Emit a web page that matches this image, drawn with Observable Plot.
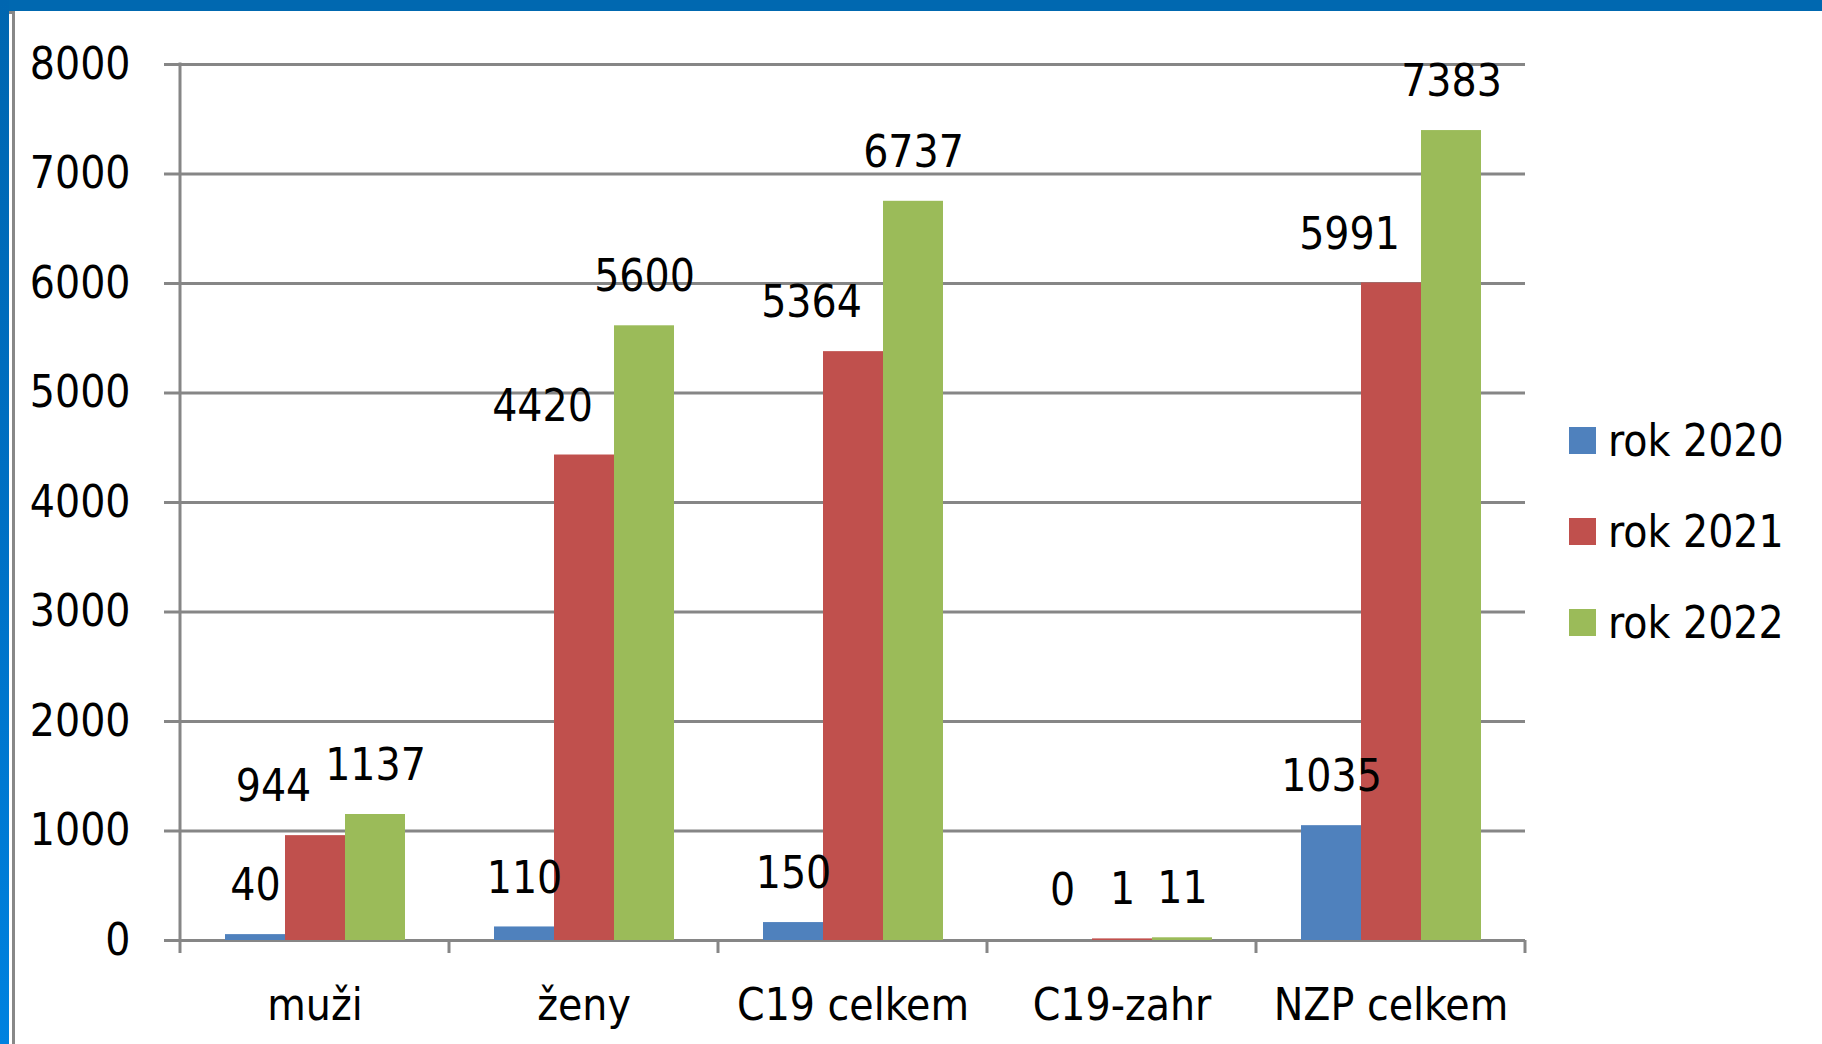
<!DOCTYPE html>
<html><head><meta charset="utf-8">
<script src="https://cdn.jsdelivr.net/npm/d3@7"></script>
<script src="https://cdn.jsdelivr.net/npm/@observablehq/plot@0.6"></script>
<style>
html,body{margin:0;padding:0;background:#fff;}
#wrap{position:relative;width:1822px;height:1044px;overflow:hidden;background:#fff;
  font-family:"DejaVu Sans Condensed","DejaVu Sans",sans-serif;font-stretch:condensed;}
#chart{position:absolute;left:0;top:0;}
.topbar{position:absolute;left:0;top:0;width:1822px;height:11px;background:#0068b0;}
.leftbar{position:absolute;left:0;top:0;width:9px;height:1044px;background:linear-gradient(#0066b0,#0070c4 50%,#0082e0);}
.leftline{position:absolute;left:12px;top:11px;width:3px;height:1033px;background:#888;}
.leftcap{position:absolute;left:9px;top:11px;width:6px;height:3px;background:#888;}
.legrow{position:absolute;left:1569px;height:91px;display:flex;align-items:center;font-size:44px;line-height:1;color:#000;white-space:nowrap;}
.legrow .sw{width:27px;height:27px;margin-right:12px;flex:none;}
</style>
</head><body>
<div id="wrap">
  <div id="chart"></div>
  <div class="topbar"></div>
  <div class="leftbar"></div>
  <div class="leftcap"></div>
  <div class="leftline"></div>
</div>
<script>
const categories = ["muži", "ženy", "C19 celkem", "C19-zahr", "NZP celkem"];
const series = ["rok 2020", "rok 2021", "rok 2022"];
const values2020 = [40, 110, 150, 0, 1035];
const values2021 = [944, 4420, 5364, 1, 5991];
const values2022 = [1137, 5600, 6737, 11, 7383];
const yTicks = [0, 1000, 2000, 3000, 4000, 5000, 6000, 7000, 8000];
const colors = ["#4F81BD", "#C0504D", "#9BBB59"];

const seriesValues = [values2020, values2021, values2022];
const data = categories.flatMap((c, i) => series.map((s, j) => ({category: c, series: s, value: seriesValues[j][i]})));

const font = '"DejaVu Sans Condensed", "DejaVu Sans", sans-serif';
const gray = "#868686";

const shifted = d => d.series === "rok 2021" && d.value > 100;

const plot = Plot.plot({
  width: 1822,
  height: 1044,
  marginLeft: 180,
  marginRight: 297,
  marginTop: 64,
  marginBottom: 104,
  style: {fontFamily: font, fontStretch: "condensed", background: "transparent", overflow: "visible", color: "#000"},
  fx: {domain: categories, padding: 0, label: null},
  x: {domain: series, paddingInner: 0, paddingOuter: 0.74, axis: null},
  y: {domain: [0, 8000], label: null},
  color: {domain: series, range: colors},
  marks: [
    Plot.ruleY(yTicks, {stroke: gray, strokeWidth: 3}),
    Plot.barY(data.filter(d => d.value > 0), {fx: "category", x: "series", y: "value", fill: "series", insetTop: -1.5}),
    Plot.text(data.filter(d => !shifted(d)), {fx: "category", x: "series", y: "value", text: d => String(d.value), dy: -50, fontSize: 44, fill: "#000"}),
    Plot.text(data.filter(shifted), {fx: "category", x: "series", y: "value", text: d => String(d.value), dy: -50, dx: -42, fontSize: 44, fill: "#000"}),
    Plot.axisY({ticks: yTicks, tickFormat: d => String(d), tickSize: 16, tickPadding: 34, fontSize: 44, stroke: gray, strokeWidth: 3, fill: "#000", label: null}),
    Plot.axisFx({anchor: "bottom", tickSize: 0, tickPadding: 48, fontSize: 44, fill: "#000", label: null})
  ]
});
document.getElementById("chart").appendChild(plot);

// category boundary ticks and vertical axis line, positioned with Plot's own scales
const fx = plot.scale("fx"), y = plot.scale("y");
const y0 = y.apply(0), yTop = y.apply(8000);
const bounds = categories.map(c => fx.apply(c)).concat([fx.apply(categories[categories.length - 1]) + fx.bandwidth]);
const svg = d3.select(plot);
const g = svg.append("g").attr("stroke", gray).attr("stroke-width", 3);
g.selectAll("line.b").data(bounds).join("line").attr("class", "b")
  .attr("x1", d => d).attr("x2", d => d).attr("y1", y0).attr("y2", y0 + 13);
g.append("line").attr("x1", bounds[0]).attr("x2", bounds[0]).attr("y1", yTop - 1.5).attr("y2", y0);

// legend
const wrap = d3.select("#wrap");
series.forEach((s, i) => {
  const row = wrap.append("div").attr("class", "legrow").style("top", (395 + i * 91) + "px");
  row.append("div").attr("class", "sw").style("background", colors[i]);
  row.append("span").text(s);
});
</script>
</body></html>
